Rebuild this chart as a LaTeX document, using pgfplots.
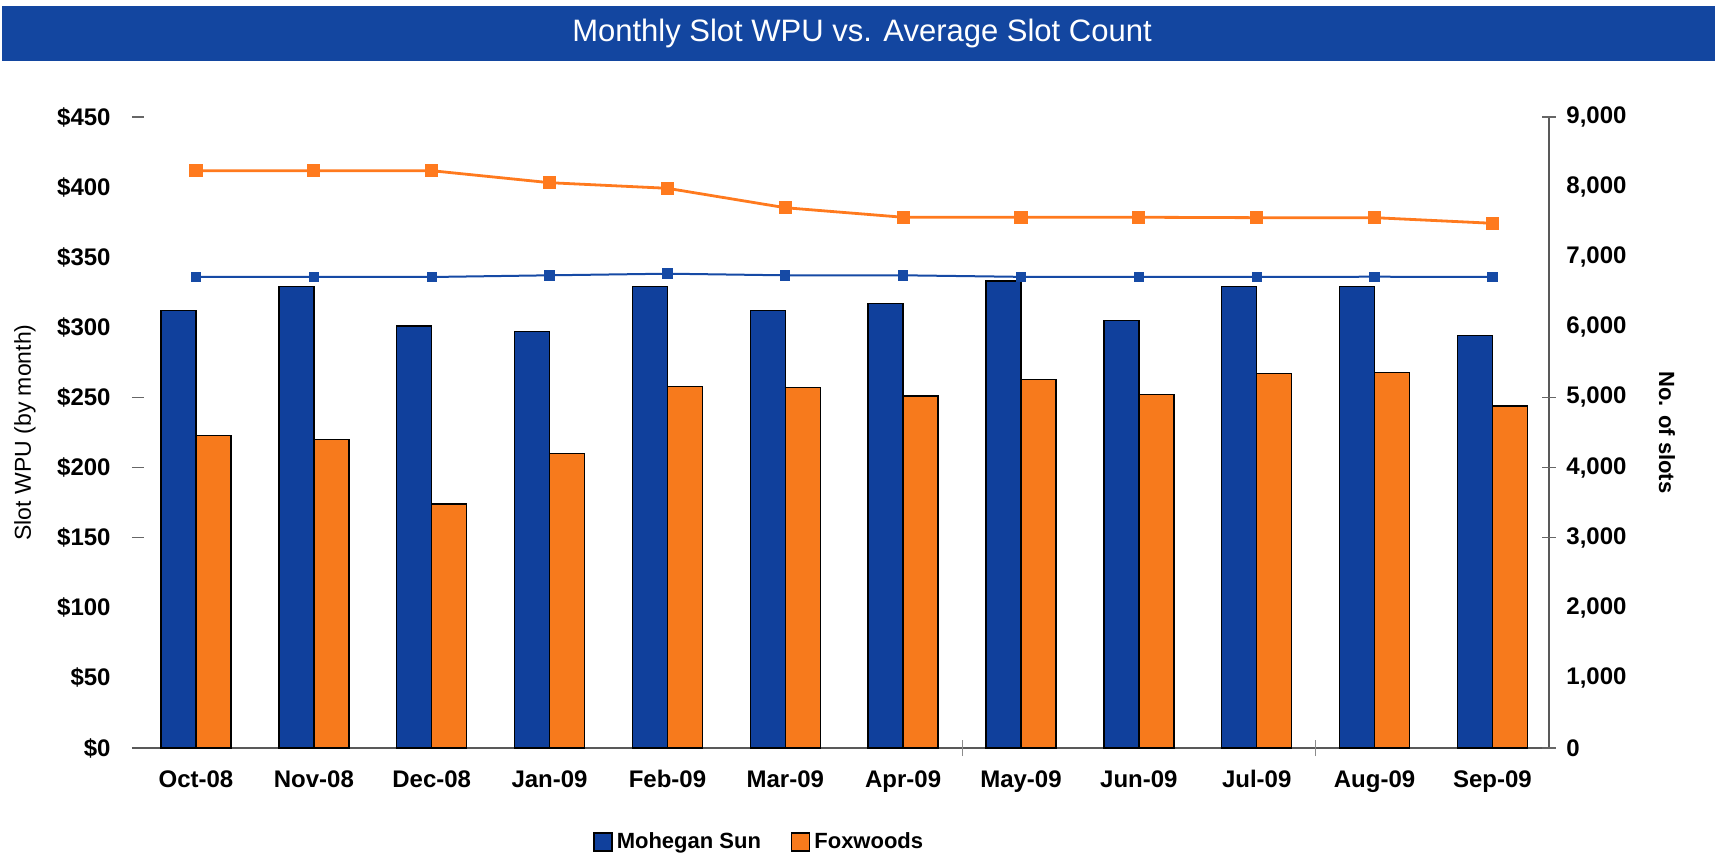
\documentclass[border=0pt]{standalone}
\usepackage{pgfplots}
\usepackage{pgfplotstable}
\pgfplotsset{compat=1.18}
\usepackage{fontspec}
\setmainfont{Liberation Sans}
\definecolor{banner}{RGB}{19,70,160}
\definecolor{mblue}{RGB}{16,64,156}
\definecolor{forange}{RGB}{247,122,28}
\definecolor{lorange}{RGB}{255,122,30}
\definecolor{lblue}{RGB}{22,74,165}
\pgfplotsset{sqlegend/.style={legend image code/.code={\draw[##1] (0pt,-4.5pt) rectangle (9pt,4.5pt);}}}

\pgfplotstableread{
x m f
0 312 223
1 329 220
2 301 174
3 297 210
4 329 258
5 312 257
6 317 251
7 333 263
8 305 252
9 329 267
10 329 268
11 294 244
}\bars
\pgfplotstableread{
x ms fs
0 6718 8234
1 6718 8234
2 6718 8234
3 6742 8063
4 6765 7983
5 6742 7706
6 6742 7570
7 6720 7570
8 6720 7570
9 6718 7564
10 6722 7564
11 6718 7484
}\lines

\begin{document}
\begin{tikzpicture}
\useasboundingbox (-66pt,-52.5pt) rectangle (791.5pt,374pt);
\fill[banner] (-65pt,343.5pt) rectangle (791.5pt,371pt);
\node[text=white, font=\fontsize{15.5}{18}\selectfont] at (365pt,357.5pt) {Monthly Slot WPU vs. Average Slot Count};

\begin{axis}[
 at={(0pt,0pt)}, anchor=south west, scale only axis, width=708.5pt, height=315.5pt,
 xmin=-0.543, xmax=11.48, ymin=0, ymax=450,
 axis x line*=bottom, axis y line*=left,
 x axis line style={-, draw=black!65, line width=0.6pt},
 y axis line style={draw=none},
 major tick length=0pt,
 xtick={0,...,11},
 xticklabels={Oct-08,Nov-08,Dec-08,Jan-09,Feb-09,Mar-09,Apr-09,May-09,Jun-09,Jul-09,Aug-09,Sep-09},
 ytick={0,50,...,450},
 yticklabels={\$0,\$50,\$100,\$150,\$200,\$250,\$300,\$350,\$400,\$450},
 tick label style={font=\bfseries\fontsize{12}{14}\selectfont, inner sep=0pt, text=black},
 xticklabel style={anchor=north, yshift=-11pt},
 yticklabel style={anchor=east, xshift=-10.5pt},
 ybar=0pt, bar width=17.5pt,
 clip=false,
 legend style={draw=none, fill=none, at={(0.3253,-0.149)}, anchor=west, legend columns=2,
   font=\bfseries\fontsize{11}{13}\selectfont, inner sep=0pt,
   /tikz/every even column/.append style={column sep=13pt}},
 legend cell align=left,
]
\addplot[draw=black, line width=0.7pt, fill=mblue, sqlegend] table[x=x,y=m]{\bars};
\addlegendentry{Mohegan Sun}
\addplot[draw=black, line width=0.7pt, fill=forange, sqlegend] table[x=x,y=f]{\bars};
\addlegendentry{Foxwoods}
\draw[black!60, line width=0.6pt] (axis cs:-0.543,150) -- ++(6pt,0pt);
\draw[black!60, line width=0.6pt] (axis cs:-0.543,200) -- ++(6pt,0pt);
\draw[black!60, line width=0.6pt] (axis cs:-0.543,250) -- ++(6pt,0pt);
\draw[black!60, line width=0.6pt] (axis cs:-0.543,450) -- ++(6pt,0pt);
\draw[black!45, line width=0.5pt] (axis cs:6.5,0) ++(0pt,-4pt) -- ++(0pt,8pt);
\draw[black!45, line width=0.5pt] (axis cs:9.5,0) ++(0pt,-4pt) -- ++(0pt,8pt);
\node[rotate=90, font=\fontsize{11.5}{13}\selectfont] at (axis description cs:-0.0755,0.5) {Slot WPU (by month)};
\end{axis}

\begin{axis}[
 at={(0pt,0pt)}, anchor=south west, scale only axis, width=708.5pt, height=315.5pt,
 xmin=-0.543, xmax=11.48, ymin=0, ymax=9000,
 axis x line=none, axis y line*=right,
 y axis line style={-, draw=black!65, line width=0.6pt},
 major tick length=0pt,
 ytick={0,1000,...,9000},
 yticklabels={0,{1,000},{2,000},{3,000},{4,000},{5,000},{6,000},{7,000},{8,000},{9,000}},
 yticklabel style={font=\bfseries\fontsize{12}{14}\selectfont, anchor=west, inner sep=0pt, xshift=8.5pt, text=black},
 clip=false,
]
\addplot[lorange, line width=1.4pt, mark=square*, mark size=2.6pt, mark options={solid, fill=lorange, draw=lorange}] table[x=x,y=fs]{\lines};
\addplot[lblue, line width=1pt, mark=square*, mark size=2.1pt, mark options={solid, fill=lblue, draw=lblue}] table[x=x,y=ms]{\lines};
\draw[black!60, line width=0.6pt] (axis cs:11.48,0) ++(-3.5pt,0pt) -- ++(7pt,0pt);
\draw[black!60, line width=0.6pt] (axis cs:11.48,3000) ++(-3.5pt,0pt) -- ++(7pt,0pt);
\draw[black!60, line width=0.6pt] (axis cs:11.48,4000) ++(-3.5pt,0pt) -- ++(7pt,0pt);
\draw[black!60, line width=0.6pt] (axis cs:11.48,5000) ++(-3.5pt,0pt) -- ++(7pt,0pt);
\draw[black!60, line width=0.6pt] (axis cs:11.48,9000) ++(-3.5pt,0pt) -- ++(7pt,0pt);
\node[rotate=-90, font=\bfseries\fontsize{11}{13}\selectfont] at (axis description cs:1.0833,0.5) {No. of slots};
\end{axis}
\end{tikzpicture}
\end{document}
